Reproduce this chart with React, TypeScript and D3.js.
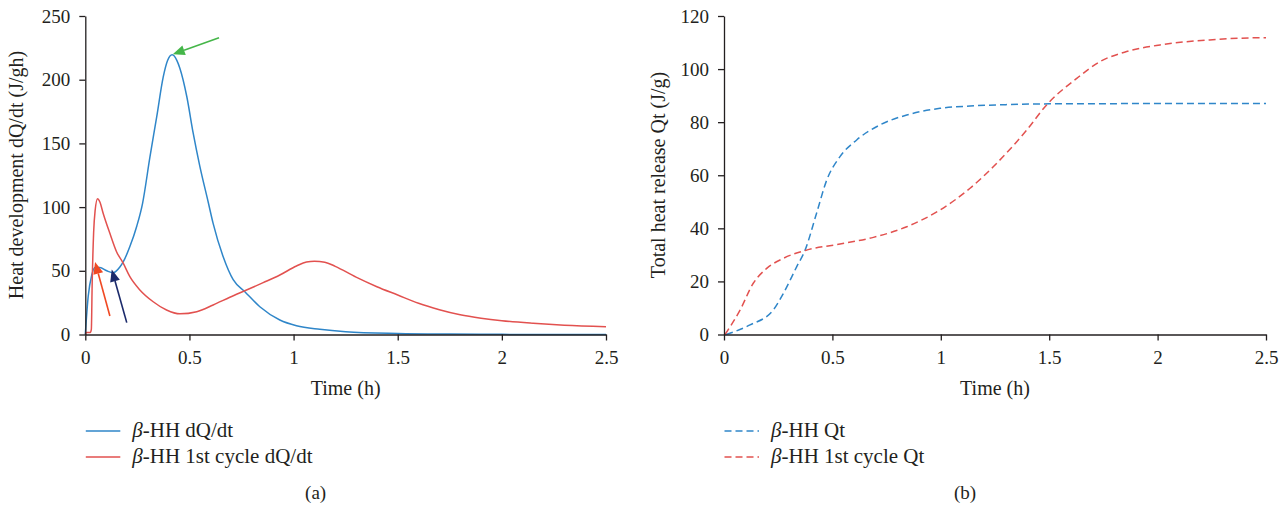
import React, { useEffect, useRef } from 'react';
import * as d3 from 'd3';

// ticks
const timeTicks = [0, 0.5, 1, 1.5, 2, 2.5];
const rateTicks = [0, 50, 100, 150, 200, 250];
const totalTicks = [0, 20, 40, 60, 80, 100, 120];

// (a) heat flow, [time h, dQ/dt]
const hhRate: [number, number][] = [
  [0, 0], [0.014, 30], [0.031, 46.7], [0.047, 52.5], [0.07, 52.5], [0.103, 50], [0.134, 48.5],
  [0.166, 53], [0.182, 57], [0.214, 69], [0.247, 85], [0.275, 103], [0.31, 139], [0.343, 171],
  [0.374, 202], [0.395, 215], [0.417, 219.5], [0.44, 215], [0.454, 209], [0.487, 187],
  [0.518, 158], [0.55, 132], [0.59, 104], [0.614, 87], [0.662, 61], [0.71, 43], [0.766, 33.6],
  [0.838, 21.8], [0.934, 11.4], [1.014, 6.9], [1.126, 4.1], [1.25, 2.2], [1.5, 0.8],
  [1.75, 0.3], [2.0, 0.1], [2.5, 0],
];
const cycleRate: [number, number][] = [
  [0, 0], [0.005, 1.5], [0.024, 1.5], [0.029, 4], [0.033, 40], [0.04, 80], [0.047, 97],
  [0.059, 106.5], [0.07, 104], [0.086, 95], [0.118, 79.4], [0.15, 65], [0.182, 56],
  [0.214, 45.4], [0.262, 35], [0.326, 25.7], [0.39, 19.2], [0.454, 16.2], [0.535, 17.9],
  [0.614, 23.2], [0.694, 29.2], [0.774, 34.9], [0.854, 40.7], [0.934, 46.7], [1.014, 53.8],
  [1.062, 56.9], [1.1, 57.5], [1.15, 56.8], [1.2, 53.5], [1.3, 45], [1.4, 37.5], [1.5, 31],
  [1.6, 24.5], [1.7, 19.5], [1.8, 15.5], [1.9, 12.8], [2.0, 10.8], [2.15, 8.8], [2.3, 7.3],
  [2.5, 6.1],
];

// (b) cumulative heat, [time h, Qt]
const hhTotal: [number, number][] = [
  [0.01, 0], [0.12, 3.6], [0.227, 9.2], [0.274, 15.5], [0.335, 25.5], [0.374, 31.8],
  [0.427, 45.7], [0.474, 58.2], [0.535, 67], [0.612, 73.3], [0.72, 79], [0.843, 82.7],
  [0.996, 85.2], [1.135, 86.1], [1.3, 86.6], [1.5, 86.9], [2.0, 87], [2.5, 87],
];
const cycleTotal: [number, number][] = [
  [0.005, 0], [0.074, 9.2], [0.135, 19.3], [0.197, 24.9], [0.274, 28.7], [0.381, 31.8],
  [0.535, 34.1], [0.689, 36.6], [0.843, 40.6], [0.996, 46.9], [1.135, 55.1], [1.242, 63.2],
  [1.396, 77], [1.488, 86.5], [1.627, 96.5], [1.734, 102.8], [1.857, 106.6], [2.011, 109.1],
  [2.24, 111], [2.487, 111.8], [2.5, 111.8],
];

// arrows on (a): tail -> tip in data units
const arrowTails: [number, number][] = [[0.642, 233], [0.118, 14.5], [0.199, 9.3]];
const arrowTips: [number, number][] = [[0.42, 220], [0.047, 57], [0.127, 51]];
const arrowColors = ['#45b649', '#f04923', '#1b2a6b'];

const BLUE = '#2f86c9';
const RED = '#e2514f';
const INK = '#231f20';
const FONT = '"Liberation Serif", "Times New Roman", serif';

const App = () => {
  const svgRef = useRef<SVGSVGElement>(null);

  useEffect(() => {
    document.body.style.margin = '0';
    const svg = d3.select(svgRef.current);
    svg.selectAll('*').remove();

    const drawPanel = (
      left: number, right: number, yMax: number, yTicks: number[],
      series: { data: [number, number][]; color: string; dash?: string; label: string }[],
      yLabel: string, labelOffset: number, tag: string,
    ) => {
      const x = d3.scaleLinear().domain([0, 2.5]).range([left, right]);
      const y = d3.scaleLinear().domain([0, yMax]).range([334.5, 16]);
      const g = svg.append('g');

      const line = d3.line<[number, number]>()
        .x(d => x(d[0]))
        .y(d => y(d[1]))
        .curve(d3.curveMonotoneX);

      series.forEach(s => {
        g.append('path')
          .attr('d', line(s.data))
          .attr('fill', 'none')
          .attr('stroke', s.color)
          .attr('stroke-width', 1.5)
          .attr('stroke-dasharray', s.dash ?? null);
      });

      const xAxis = g.append('g')
        .attr('transform', `translate(0,${y(0)})`)
        .call(d3.axisBottom(x).tickValues(timeTicks).tickFormat(d3.format('')).tickSize(6).tickSizeOuter(0).tickPadding(10));
      const yAxis = g.append('g')
        .attr('transform', `translate(${x(0)},0)`)
        .call(d3.axisLeft(y).tickValues(yTicks).tickFormat(d3.format('')).tickSize(6).tickSizeOuter(0).tickPadding(9));
      [xAxis, yAxis].forEach(a => {
        a.selectAll('path, line').attr('stroke', INK).attr('stroke-width', 1.3);
        a.selectAll('text').attr('fill', INK).style('font-family', FONT).style('font-size', '19px');
      });

      g.append('text')
        .attr('x', (left + right) / 2).attr('y', 395)
        .attr('text-anchor', 'middle')
        .style('font-family', FONT).style('font-size', '20px').attr('fill', INK)
        .text('Time (h)');

      g.append('text')
        .attr('transform', `translate(${left - labelOffset},175) rotate(-90)`)
        .attr('text-anchor', 'middle')
        .style('font-family', FONT).style('font-size', '20px').attr('fill', INK)
        .text(yLabel);

      series.forEach((s, i) => {
        const ly = 431 + i * 26;
        g.append('line')
          .attr('x1', left + 0.5).attr('x2', left + 35)
          .attr('y1', ly).attr('y2', ly)
          .attr('stroke', s.color).attr('stroke-width', 1.5)
          .attr('stroke-dasharray', s.dash ?? null);
        const t = g.append('text')
          .attr('x', left + 47).attr('y', ly + 6)
          .style('font-family', FONT).style('font-size', '21px').attr('fill', INK);
        t.append('tspan').style('font-style', 'italic').text('β');
        t.append('tspan').text(s.label);
      });

      g.append('text')
        .attr('x', (left + right) / 2 - 30).attr('y', 499)
        .attr('text-anchor', 'middle')
        .style('font-family', FONT).style('font-size', '19px').attr('fill', INK)
        .text(tag);

      return { x, y, g };
    };

    const a = drawPanel(85.3, 606, 250, rateTicks, [
      { data: hhRate, color: BLUE, label: '-HH dQ/dt' },
      { data: cycleRate, color: RED, label: '-HH 1st cycle dQ/dt' },
    ], 'Heat development dQ/dt (J/gh)', 62, '(a)');

    drawPanel(724, 1266, 120, totalTicks, [
      { data: hhTotal, color: BLUE, dash: '7,4', label: '-HH Qt' },
      { data: cycleTotal, color: RED, dash: '7,4', label: '-HH 1st cycle Qt' },
    ], 'Total heat release Qt (J/g)', 59, '(b)');

    // arrows
    arrowTips.forEach((tip, i) => {
      const tx = a.x(tip[0]), ty = a.y(tip[1]);
      const sx = a.x(arrowTails[i][0]), sy = a.y(arrowTails[i][1]);
      const ang = Math.atan2(ty - sy, tx - sx);
      const hl = 12, hw = 5;
      const bx = tx - hl * Math.cos(ang), by = ty - hl * Math.sin(ang);
      a.g.append('line')
        .attr('x1', sx).attr('y1', sy).attr('x2', bx).attr('y2', by)
        .attr('stroke', arrowColors[i]).attr('stroke-width', 1.6);
      const px = -Math.sin(ang) * hw, py = Math.cos(ang) * hw;
      a.g.append('path')
        .attr('d', `M${tx},${ty}L${bx + px},${by + py}L${bx - px},${by - py}Z`)
        .attr('fill', arrowColors[i]);
    });
  }, []);

  return <svg ref={svgRef} width={1288} height={508} style={{ display: 'block' }}></svg>;
};

export default App;
